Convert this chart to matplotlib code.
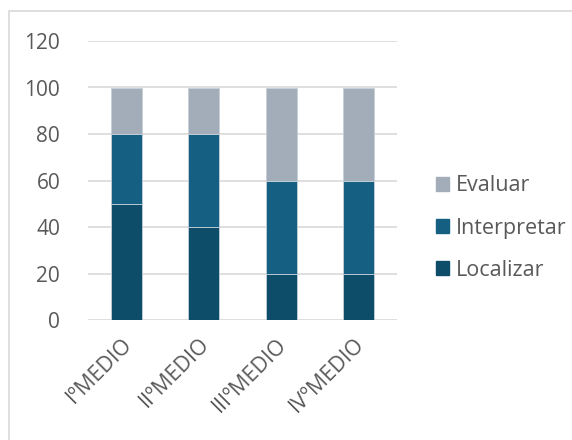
import matplotlib
matplotlib.use("Agg")
import matplotlib.pyplot as plt
from matplotlib.patches import Rectangle, Patch
from matplotlib.transforms import ScaledTranslation

categories = ["IºMEDIO", "IIºMEDIO", "IIIºMEDIO", "IVºMEDIO"]
localizar = [50, 40, 20, 20]
interpretar = [30, 40, 40, 40]
evaluar = [20, 20, 40, 40]
yticks = [0, 20, 40, 60, 80, 100, 120]

c_loc = "#0e4d69"
c_int = "#156082"
c_eva = "#a2adb9"
txt = "#595959"
grid = "#d9d9d9"

plt.rcParams['font.family'] = ['Open Sans', 'DejaVu Sans']

fig = plt.figure(figsize=(5.72, 4.40), dpi=100)
fig.patches.append(Rectangle((9/572, -0.1), 1.2, (440-11)/440 + 0.1,
                             transform=fig.transFigure, fill=False,
                             edgecolor=grid, linewidth=1.2))
ax = fig.add_axes([88/572, 1-320/440, (397-88)/572, (320-41)/440])

x = list(range(len(categories)))
w = 0.40
ec = "#c5d0d9"
lw = 0.6
b1 = [a for a in localizar]
b2 = [a + b for a, b in zip(localizar, interpretar)]
ax.bar(x, localizar, w, color=c_loc, edgecolor=ec, linewidth=lw, zorder=3, label="Localizar")
ax.bar(x, interpretar, w, bottom=b1, color=c_int, edgecolor=ec, linewidth=lw, zorder=3, label="Interpretar")
ax.bar(x, evaluar, w, bottom=b2, color=c_eva, edgecolor=ec, linewidth=lw, zorder=3, label="Evaluar")

ax.set_xlim(-0.5, len(categories) - 0.5)
ax.set_ylim(0, 120)
ax.set_yticks(yticks)
ax.yaxis.grid(True, color=grid, linewidth=1.2, zorder=0)
ax.set_axisbelow(True)
for s in ax.spines.values():
    s.set_visible(False)
ax.tick_params(axis='both', length=0, labelsize=15, colors=txt)
ax.tick_params(axis='y', pad=20)
ax.set_xticks(x)
ax.set_xticklabels(categories, rotation=45, ha='right', va='top',
                   rotation_mode='anchor', color=txt, fontsize=15.5)
ax.tick_params(axis='x', pad=10)
shift = ScaledTranslation(-5/100, 0, fig.dpi_scale_trans)
for lab in ax.get_xticklabels():
    lab.set_transform(lab.get_transform() + shift)

handles = [Patch(color=c_eva), Patch(color=c_int), Patch(color=c_loc)]
labels = ["Evaluar", "Interpretar", "Localizar"]
fig.legend(handles, labels, loc='center left',
           bbox_to_anchor=(436/572, 1-228/440), frameon=False,
           fontsize=15.5, labelcolor=txt, handlelength=0.62, handleheight=0.62,
           handletextpad=0.3, labelspacing=0.98, borderaxespad=0, borderpad=0)

fig.savefig("out.png", dpi=100)
